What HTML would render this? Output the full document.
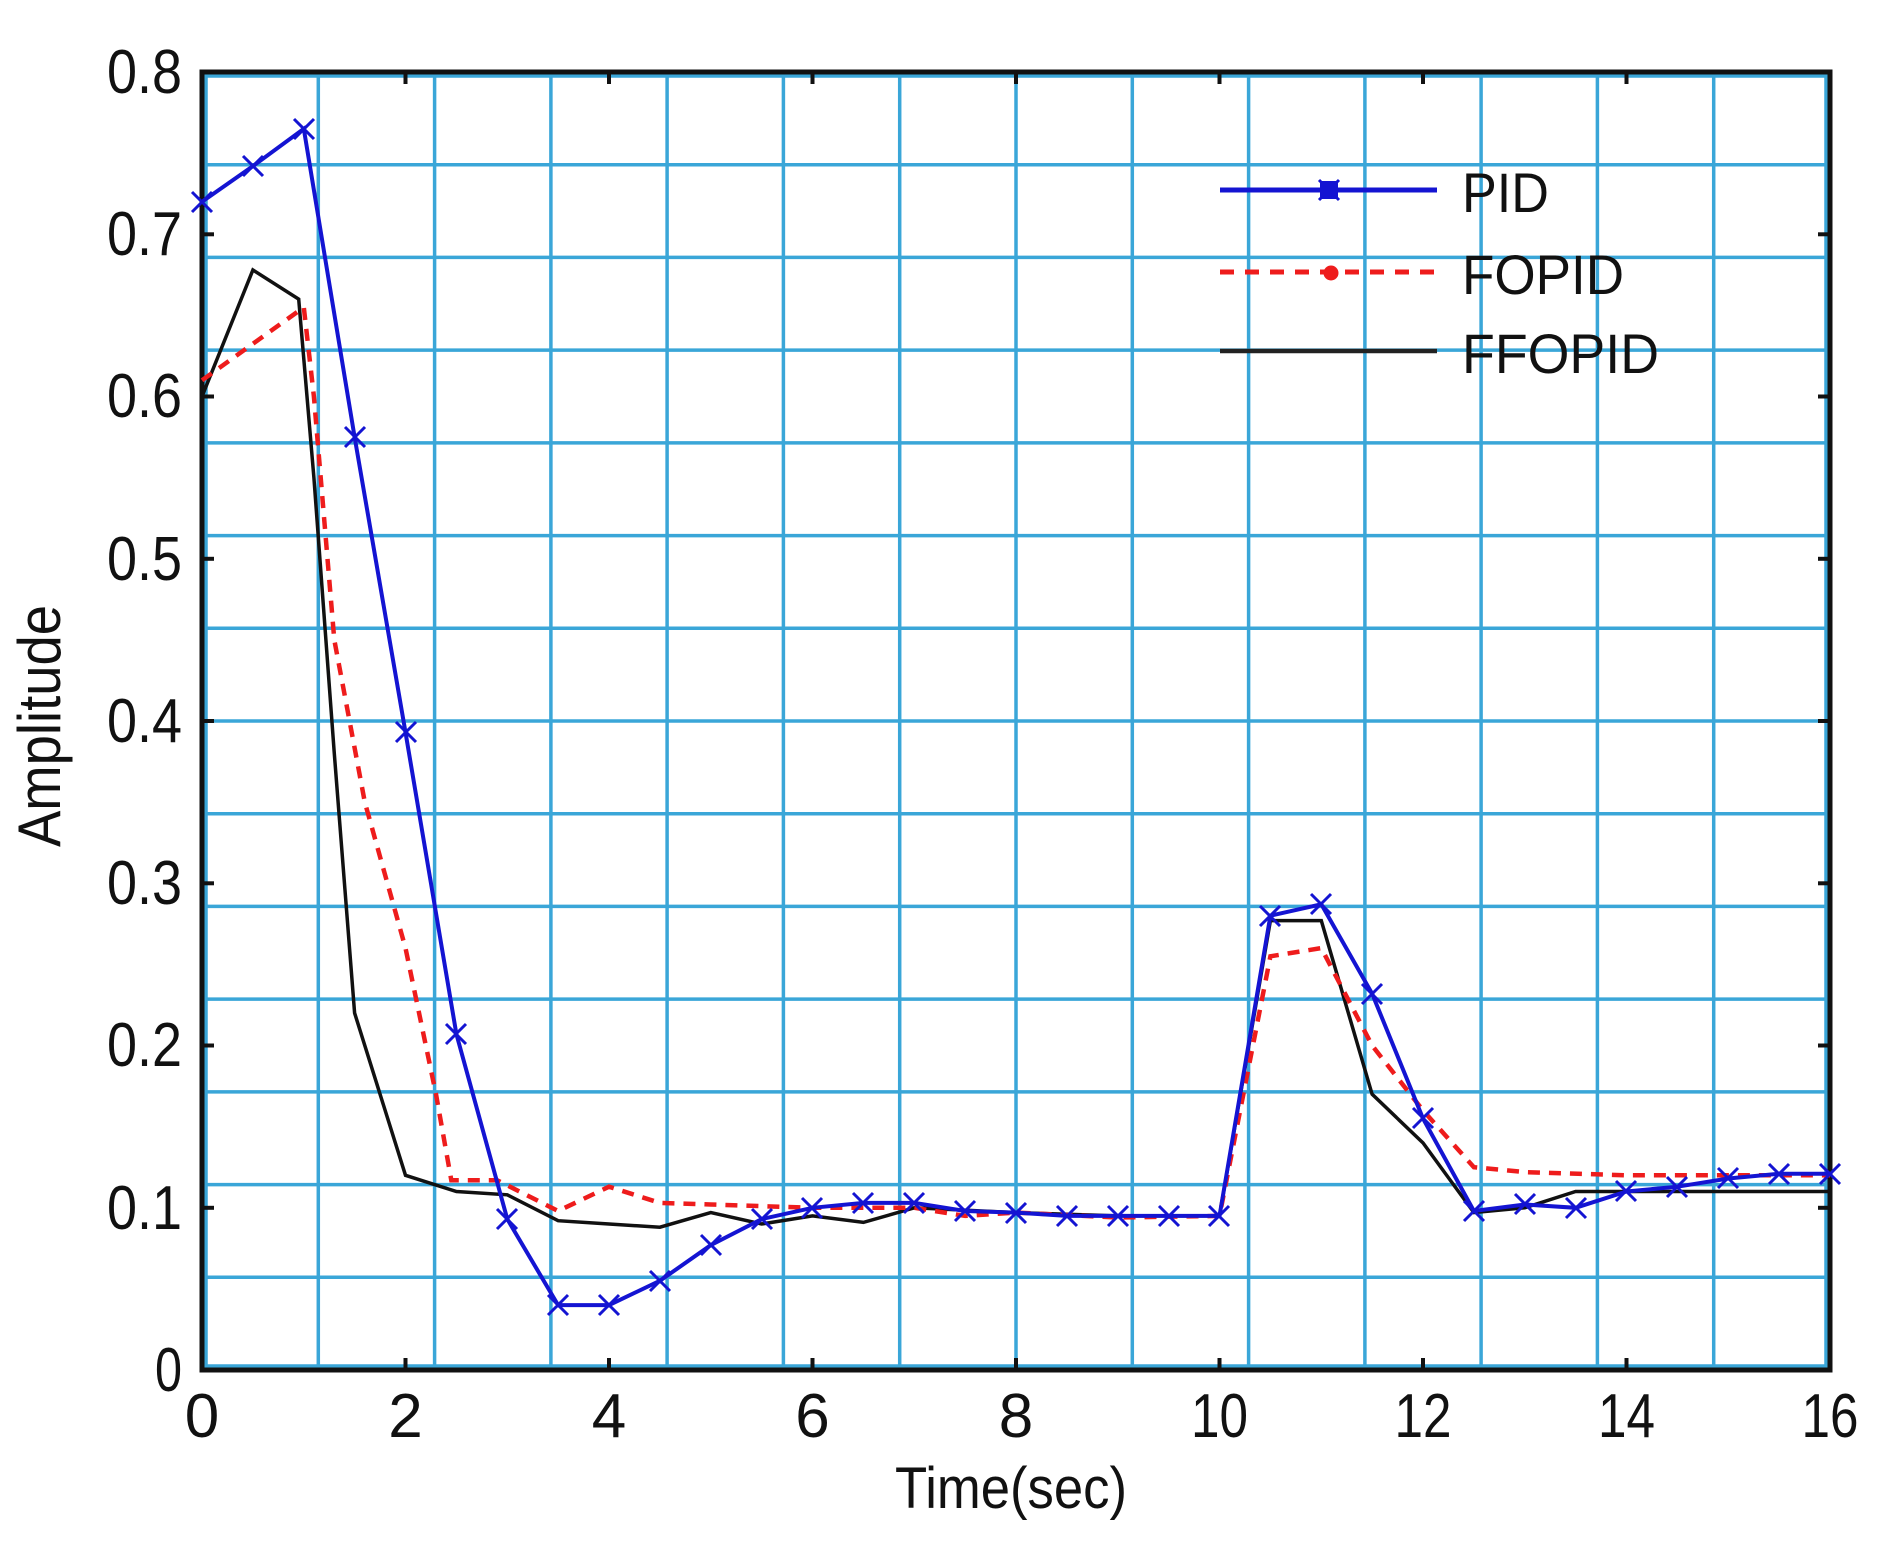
<!DOCTYPE html>
<html><head><meta charset="utf-8"><style>
html,body{margin:0;padding:0;background:#fff;}
svg{display:block;}
text{font-family:"Liberation Sans",Arial,sans-serif;fill:#111;}
</style></head><body>
<svg width="1893" height="1541" viewBox="0 0 1893 1541" xmlns="http://www.w3.org/2000/svg">
<rect width="1893" height="1541" fill="#fff"/>
<g stroke="#3aa6d8" stroke-width="3.5">
<line x1="318.3" y1="72" x2="318.3" y2="1370"/><line x1="434.6" y1="72" x2="434.6" y2="1370"/>
<line x1="550.9" y1="72" x2="550.9" y2="1370"/><line x1="667.1" y1="72" x2="667.1" y2="1370"/>
<line x1="783.4" y1="72" x2="783.4" y2="1370"/><line x1="899.7" y1="72" x2="899.7" y2="1370"/>
<line x1="1016" y1="72" x2="1016" y2="1370"/><line x1="1132.3" y1="72" x2="1132.3" y2="1370"/>
<line x1="1248.6" y1="72" x2="1248.6" y2="1370"/><line x1="1364.9" y1="72" x2="1364.9" y2="1370"/>
<line x1="1481.1" y1="72" x2="1481.1" y2="1370"/><line x1="1597.4" y1="72" x2="1597.4" y2="1370"/>
<line x1="1713.7" y1="72" x2="1713.7" y2="1370"/>
<line x1="202" y1="164.7" x2="1830" y2="164.7"/><line x1="202" y1="257.4" x2="1830" y2="257.4"/>
<line x1="202" y1="350.1" x2="1830" y2="350.1"/><line x1="202" y1="442.9" x2="1830" y2="442.9"/>
<line x1="202" y1="535.6" x2="1830" y2="535.6"/><line x1="202" y1="628.3" x2="1830" y2="628.3"/>
<line x1="202" y1="721" x2="1830" y2="721"/><line x1="202" y1="813.7" x2="1830" y2="813.7"/>
<line x1="202" y1="906.4" x2="1830" y2="906.4"/><line x1="202" y1="999.1" x2="1830" y2="999.1"/>
<line x1="202" y1="1091.9" x2="1830" y2="1091.9"/><line x1="202" y1="1184.6" x2="1830" y2="1184.6"/>
<line x1="202" y1="1277.3" x2="1830" y2="1277.3"/>
<rect x="206" y="76" width="1620" height="1290" fill="none"/>
</g>
<g stroke="#111" stroke-width="4">
<line x1="202" y1="1207.8" x2="214" y2="1207.8"/><line x1="202" y1="1045.5" x2="214" y2="1045.5"/>
<line x1="202" y1="883.3" x2="214" y2="883.3"/><line x1="202" y1="721" x2="214" y2="721"/>
<line x1="202" y1="558.8" x2="214" y2="558.8"/><line x1="202" y1="396.5" x2="214" y2="396.5"/>
<line x1="202" y1="234.3" x2="214" y2="234.3"/>
<line x1="1830" y1="1207.8" x2="1818" y2="1207.8"/><line x1="1830" y1="1045.5" x2="1818" y2="1045.5"/>
<line x1="1830" y1="883.3" x2="1818" y2="883.3"/><line x1="1830" y1="721" x2="1818" y2="721"/>
<line x1="1830" y1="558.8" x2="1818" y2="558.8"/><line x1="1830" y1="396.5" x2="1818" y2="396.5"/>
<line x1="1830" y1="234.3" x2="1818" y2="234.3"/>
<line x1="405.5" y1="1370" x2="405.5" y2="1358"/><line x1="609" y1="1370" x2="609" y2="1358"/>
<line x1="812.5" y1="1370" x2="812.5" y2="1358"/><line x1="1016" y1="1370" x2="1016" y2="1358"/>
<line x1="1219.5" y1="1370" x2="1219.5" y2="1358"/><line x1="1423" y1="1370" x2="1423" y2="1358"/>
<line x1="1626.5" y1="1370" x2="1626.5" y2="1358"/>
<line x1="405.5" y1="72" x2="405.5" y2="84"/><line x1="609" y1="72" x2="609" y2="84"/>
<line x1="812.5" y1="72" x2="812.5" y2="84"/><line x1="1016" y1="72" x2="1016" y2="84"/>
<line x1="1219.5" y1="72" x2="1219.5" y2="84"/><line x1="1423" y1="72" x2="1423" y2="84"/>
<line x1="1626.5" y1="72" x2="1626.5" y2="84"/>
</g>
<rect x="202" y="72" width="1628" height="1298" fill="none" stroke="#111" stroke-width="5"/>
<polyline fill="none" stroke="#111" stroke-width="3.5" points="202,396.5 252.9,270 298.7,299.1 313.9,477.6 334.3,753.5 354.6,1013 405.5,1175.3 456.4,1191.5 507.3,1194.8 558.1,1220.7 609,1224 659.9,1227.2 710.8,1212.6 761.6,1224 812.5,1215.9 863.4,1222.4 914.3,1207.8 1016,1212.6 1117.8,1215.9 1219.5,1215.9 1270.4,920.6 1321.3,920.6 1372.1,1094.2 1423,1142.9 1473.9,1212.6 1524.8,1207.8 1575.6,1191.5 1830,1191.5"/>
<polyline fill="none" stroke="#ee1c1c" stroke-width="4.5" stroke-dasharray="12,9" points="202,380.3 303.8,307.3 313.9,396.5 334.3,639.9 364.8,802.1 405.5,948.1 436,1094.2 451.3,1180.2 497.1,1180.2 558.1,1211 609,1186.7 659.9,1202.9 710.8,1204.5 812.5,1207.8 914.3,1207.8 965.1,1215.9 1016,1212.6 1117.8,1217.5 1219.5,1215.9 1270.4,956.3 1321.3,948.1 1372.1,1045.5 1423,1110.4 1473.9,1167.2 1524.8,1172.1 1626.5,1175.3 1728.3,1175.3 1830,1175.3"/>
<polyline fill="none" stroke="#1414d2" stroke-width="4" points="202,201.8 252.9,166.1 303.8,128.8 354.6,437.1 405.5,732.4 456.4,1034.1 507.3,1219.1 558.1,1305.1 609,1305.1 659.9,1280.8 710.8,1245.1 761.6,1219.1 812.5,1207.8 863.4,1202.9 914.3,1202.9 965.1,1211 1016,1212.6 1066.9,1215.9 1117.8,1215.9 1168.6,1215.9 1219.5,1215.9 1270.4,915.7 1321.3,904.3 1372.1,993.6 1423,1118.5 1473.9,1211 1524.8,1204.5 1575.6,1207.8 1626.5,1191.5 1677.4,1186.7 1728.3,1178.5 1779.1,1173.7 1830,1173.7"/>
<path fill="none" stroke="#1414d2" stroke-width="3" d="
M192,192l20,20m0,-20l-20,20
M243,156l20,20m0,-20l-20,20
M294,119l20,20m0,-20l-20,20
M345,427l20,20m0,-20l-20,20
M396,722l20,20m0,-20l-20,20
M446,1024l20,20m0,-20l-20,20
M497,1209l20,20m0,-20l-20,20
M548,1295l20,20m0,-20l-20,20
M599,1295l20,20m0,-20l-20,20
M650,1271l20,20m0,-20l-20,20
M701,1235l20,20m0,-20l-20,20
M752,1209l20,20m0,-20l-20,20
M802,1198l20,20m0,-20l-20,20
M853,1193l20,20m0,-20l-20,20
M904,1193l20,20m0,-20l-20,20
M955,1201l20,20m0,-20l-20,20
M1006,1203l20,20m0,-20l-20,20
M1057,1206l20,20m0,-20l-20,20
M1108,1206l20,20m0,-20l-20,20
M1159,1206l20,20m0,-20l-20,20
M1209,1206l20,20m0,-20l-20,20
M1260,906l20,20m0,-20l-20,20
M1311,894l20,20m0,-20l-20,20
M1362,984l20,20m0,-20l-20,20
M1413,1108l20,20m0,-20l-20,20
M1464,1201l20,20m0,-20l-20,20
M1515,1194l20,20m0,-20l-20,20
M1566,1198l20,20m0,-20l-20,20
M1616,1181l20,20m0,-20l-20,20
M1667,1177l20,20m0,-20l-20,20
M1718,1168l20,20m0,-20l-20,20
M1769,1164l20,20m0,-20l-20,20
M1820,1164l20,20m0,-20l-20,20"/>
<line x1="1220" y1="190" x2="1437" y2="190" stroke="#1414d2" stroke-width="5"/>
<rect x="1320" y="181" width="18" height="18" fill="#1414d2"/>
<path d="M1319,180l20,20m0,-20l-20,20" stroke="#1414d2" stroke-width="3"/>
<line x1="1220" y1="272" x2="1437" y2="272" stroke="#ee1c1c" stroke-width="5" stroke-dasharray="14,11"/>
<circle cx="1331" cy="273" r="7.5" fill="#ee1c1c"/>
<line x1="1220" y1="351" x2="1437" y2="351" stroke="#222" stroke-width="4.5"/>
<text x="1462" y="212" font-size="56" textLength="87" lengthAdjust="spacingAndGlyphs">PID</text>
<text x="1462" y="294" font-size="56" textLength="162" lengthAdjust="spacingAndGlyphs">FOPID</text>
<text x="1462" y="373" font-size="56" textLength="197" lengthAdjust="spacingAndGlyphs">FFOPID</text>
<g font-size="62" text-anchor="end">
<text x="182" y="1391" textLength="27" lengthAdjust="spacingAndGlyphs">0</text>
<text x="182" y="1229" textLength="75" lengthAdjust="spacingAndGlyphs">0.1</text>
<text x="182" y="1066" textLength="75" lengthAdjust="spacingAndGlyphs">0.2</text>
<text x="182" y="904" textLength="75" lengthAdjust="spacingAndGlyphs">0.3</text>
<text x="182" y="742" textLength="75" lengthAdjust="spacingAndGlyphs">0.4</text>
<text x="182" y="580" textLength="75" lengthAdjust="spacingAndGlyphs">0.5</text>
<text x="182" y="417" textLength="75" lengthAdjust="spacingAndGlyphs">0.6</text>
<text x="182" y="255" textLength="75" lengthAdjust="spacingAndGlyphs">0.7</text>
<text x="182" y="93" textLength="75" lengthAdjust="spacingAndGlyphs">0.8</text>
</g>
<g font-size="62" text-anchor="middle">
<text x="202" y="1437">0</text>
<text x="405.5" y="1437">2</text>
<text x="609" y="1437">4</text>
<text x="812.5" y="1437">6</text>
<text x="1016" y="1437">8</text>
<text x="1219.5" y="1437" textLength="57" lengthAdjust="spacingAndGlyphs">10</text>
<text x="1423" y="1437" textLength="57" lengthAdjust="spacingAndGlyphs">12</text>
<text x="1626.5" y="1437" textLength="57" lengthAdjust="spacingAndGlyphs">14</text>
<text x="1830" y="1437" textLength="57" lengthAdjust="spacingAndGlyphs">16</text>
</g>
<text x="895" y="1508" font-size="58" textLength="232" lengthAdjust="spacingAndGlyphs">Time(sec)</text>
<text transform="translate(60,847) rotate(-90)" font-size="60" textLength="242" lengthAdjust="spacingAndGlyphs">Amplitude</text>
</svg>
</body></html>
